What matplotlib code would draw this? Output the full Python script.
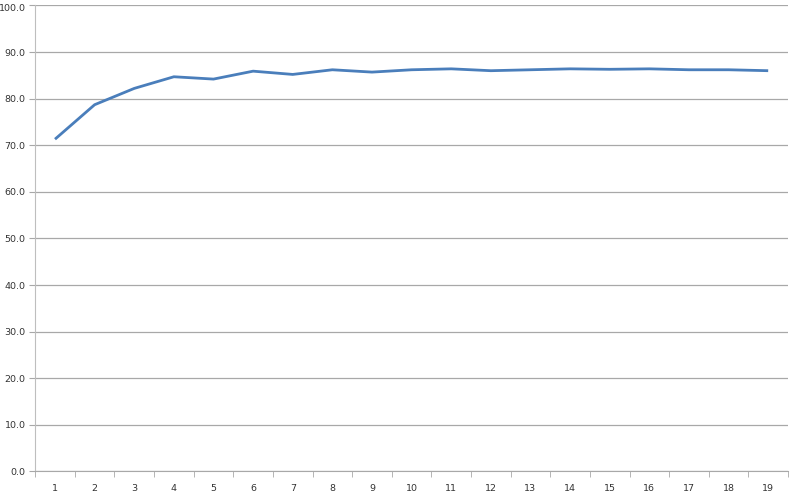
import numpy as np
import matplotlib.pyplot as plt
import matplotlib.transforms as mtransforms

categories = [str(i) for i in range(1, 20)]
values = [71.3, 78.7, 82.2, 84.7, 84.2, 85.9, 85.2, 86.2, 85.7, 86.2,
          86.4, 86.0, 86.2, 86.4, 86.3, 86.4, 86.2, 86.2, 86.0]
y_ticks = np.arange(0, 101, 10)

fig = plt.figure(figsize=(8, 4.98), dpi=100)
ax = fig.add_axes([0.044, 0.0535, 0.941, 0.9355])

x = np.arange(1, len(values) + 1)
ax.plot(x, values, color='#4A7EBB', linewidth=2.0, solid_capstyle='butt')

ax.set_xlim(0.5, len(values) + 0.5)
ax.set_ylim(0, 100)
ax.set_yticks(y_ticks)
ax.set_yticklabels(['%.1f' % v for v in y_ticks])
ax.set_xticks(x)
ax.set_xticklabels(categories)
ax.set_xticks(np.arange(0.5, len(values) + 1), minor=True)

ax.grid(axis='y', color='#A8A8A8', linewidth=0.9)
ax.set_axisbelow(True)
for s in ['top', 'right']:
    ax.spines[s].set_visible(False)
ax.spines['left'].set_color('#BEBEBE')
ax.spines['bottom'].set_color('#A8A8A8')

ax.tick_params(axis='x', which='major', length=0, pad=9, labelsize=6.8, labelcolor='#333333')
ax.tick_params(axis='x', which='minor', length=4, color='#A8A8A8', direction='out')
ax.tick_params(axis='y', length=4, color='#A8A8A8', pad=3, labelsize=6.8, labelcolor='#333333')

# top label sits a touch lower so it is not clipped
top_lbl = ax.get_yticklabels()[-1]
top_lbl.set_transform(top_lbl.get_transform() +
                      mtransforms.ScaledTranslation(0, -2 / 100, fig.dpi_scale_trans))

plt.savefig('out.png', dpi=100)
